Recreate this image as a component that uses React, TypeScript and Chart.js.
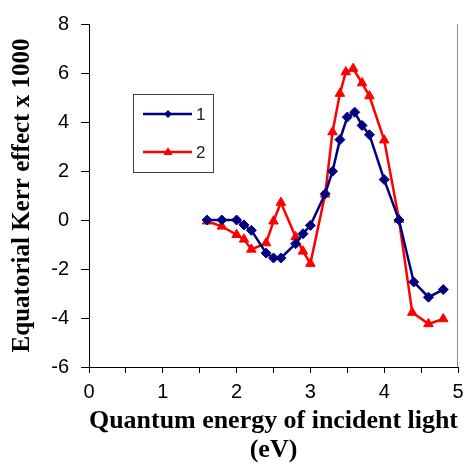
import React, { useEffect, useRef } from "react";
import { Chart, registerables } from "chart.js";

Chart.register(...registerables);

const energy1 = [1.6, 1.8, 2.0, 2.1, 2.2, 2.4, 2.5, 2.6, 2.8, 2.9, 3.0, 3.2, 3.3, 3.4, 3.5, 3.6, 3.7, 3.8, 4.0, 4.2, 4.4, 4.6, 4.8];
const kerr1 = [0, 0, 0, -0.2, -0.42, -1.35, -1.55, -1.55, -0.97, -0.56, -0.22, 1.07, 1.99, 3.28, 4.2, 4.4, 3.86, 3.48, 1.65, 0, -2.53, -3.15, -2.84];

const energy2 = [1.6, 1.8, 2.0, 2.1, 2.2, 2.4, 2.5, 2.6, 2.8, 2.9, 3.0, 3.2, 3.3, 3.4, 3.48, 3.58, 3.7, 3.8, 4.0, 4.2, 4.38, 4.6, 4.8];
const kerr2 = [-0.05, -0.26, -0.6, -0.79, -1.2, -0.94, -0.05, 0.71, -0.69, -1.28, -1.78, 1.05, 3.59, 5.16, 6.04, 6.18, 5.59, 5.06, 3.26, 0.02, -3.78, -4.24, -4.04];

const seriesLabels = ["1", "2"];
const seriesColors = ["#000080", "#ff0000"];
const seriesMarkers = ["rectRot", "triangle"];

const xTitle = ["Quantum energy of incident light", "(eV)"];
const yTitle = "Equatorial Kerr effect x 1000";

const legendPlugin = {
  id: "boxLegend",
  afterDraw(chart: any) {
    const ctx = chart.ctx;
    ctx.save();
    ctx.strokeStyle = "#404040";
    ctx.lineWidth = 1;
    ctx.strokeRect(133.5, 94.5, 80, 78);
    const rows = [114, 152];
    rows.forEach((y, i) => {
      ctx.strokeStyle = seriesColors[i];
      ctx.lineWidth = 2.5;
      ctx.beginPath();
      ctx.moveTo(143, y);
      ctx.lineTo(192, y);
      ctx.stroke();
      ctx.fillStyle = seriesColors[i];
      ctx.beginPath();
      if (i === 0) {
        ctx.moveTo(168, y - 4);
        ctx.lineTo(172, y);
        ctx.lineTo(168, y + 4);
        ctx.lineTo(164, y);
      } else {
        ctx.moveTo(168, y - 5);
        ctx.lineTo(172.5, y + 3);
        ctx.lineTo(163.5, y + 3);
      }
      ctx.closePath();
      ctx.fill();
      ctx.fillStyle = "#222";
      ctx.font = "17px 'Liberation Sans', Arial, sans-serif";
      ctx.textAlign = "left";
      ctx.textBaseline = "middle";
      ctx.fillText(seriesLabels[i], 196, y + 1);
    });
    // right plot border
    const a = chart.chartArea;
    ctx.strokeStyle = "#909090";
    ctx.lineWidth = 1;
    ctx.beginPath();
    ctx.moveTo(Math.round(a.right) - 0.5, a.top);
    ctx.lineTo(Math.round(a.right) - 0.5, a.bottom);
    ctx.stroke();
    ctx.restore();
  },
};

export default function App() {
  const ref = useRef<HTMLCanvasElement | null>(null);
  useEffect(() => {
    if (!ref.current) return;
    const chart = new Chart(ref.current, {
      type: "line",
      data: {
        datasets: [
          {
            label: seriesLabels[0],
            data: energy1.map((x, i) => ({ x, y: kerr1[i] })),
            borderColor: seriesColors[0],
            backgroundColor: seriesColors[0],
            borderWidth: 2.5,
            pointStyle: seriesMarkers[0] as any,
            pointRadius: 5,
            pointBorderWidth: 1,
            tension: 0,
          },
          {
            label: seriesLabels[1],
            data: energy2.map((x, i) => ({ x, y: kerr2[i] })),
            borderColor: seriesColors[1],
            backgroundColor: seriesColors[1],
            borderWidth: 2.5,
            pointStyle: seriesMarkers[1] as any,
            pointRadius: 5.5,
            pointBorderWidth: 1,
            tension: 0,
          },
        ],
      },
      options: {
        animation: false,
        responsive: false,
        layout: { padding: { top: 22, right: 9, left: 0, bottom: 0 } },
        plugins: { legend: { display: false }, tooltip: { enabled: false } },
        scales: {
          x: {
            type: "linear",
            min: 0,
            max: 5,
            afterFit(scale: any) {
              scale.height = 100;
              scale.paddingLeft = 0;
              scale.paddingRight = 6;
            },
            ticks: {
              stepSize: 0.5,
              autoSkip: false,
              maxRotation: 0,
              padding: 7,
              color: "#000",
              font: { family: "'Liberation Sans', Arial, sans-serif", size: 20 },
              callback: (v: any) => (Number.isInteger(v) ? String(v) : ""),
            },
            grid: {
              drawOnChartArea: false,
              drawTicks: true,
              tickLength: 6,
              tickColor: "#000",
            },
            border: { color: "#000", width: 1 },
            title: {
              display: true,
              text: xTitle,
              color: "#000",
              font: { family: "'Liberation Serif', 'Times New Roman', serif", size: 26, weight: "bold", lineHeight: 1.12 },
              padding: { top: 0, bottom: 2 },
            },
          },
          y: {
            min: -6,
            max: 8,
            afterFit(scale: any) {
              scale.width = 89;
            },
            ticks: {
              stepSize: 2,
              padding: 12,
              color: "#000",
              font: { family: "'Liberation Sans', Arial, sans-serif", size: 20 },
            },
            grid: {
              drawOnChartArea: false,
              drawTicks: true,
              tickLength: 8,
              tickColor: "#000",
            },
            border: { color: "#000", width: 1 },
            title: {
              display: true,
              text: yTitle,
              color: "#000",
              font: { family: "'Liberation Serif', 'Times New Roman', serif", size: 25, weight: "bold", lineHeight: 1.2 },
              padding: { top: 8, bottom: 0 },
            },
          },
        },
      },
      plugins: [legendPlugin],
    });
    return () => chart.destroy();
  }, []);
  return (
    <div style={{ position: "fixed", left: 0, top: 0, width: 467, height: 467, background: "#fff" }}>
      <canvas ref={ref} width={467} height={467} />
    </div>
  );
}
